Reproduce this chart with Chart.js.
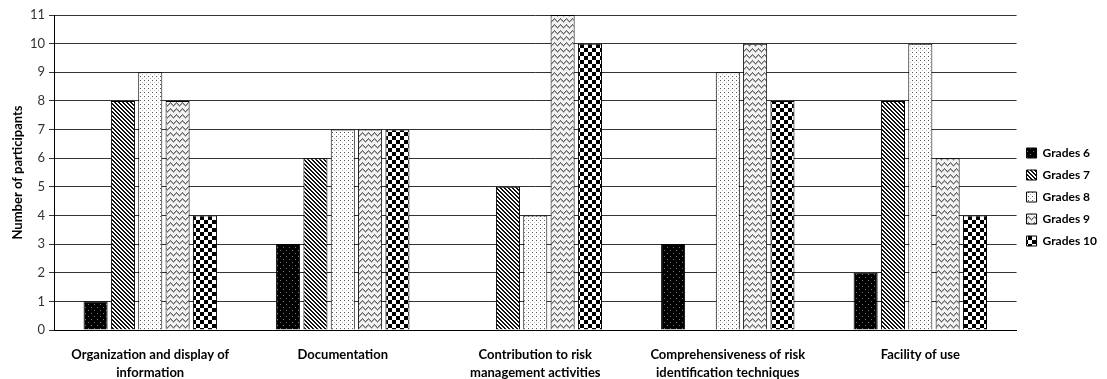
<!DOCTYPE html>
<html>
<head>
<meta charset="utf-8">
<script src="https://cdn.jsdelivr.net/npm/chart.js@4/dist/chart.umd.min.js"></script>
<style>
  html, body { margin: 0; padding: 0; background: #fff; }
  #wrap { width: 1107px; height: 379px; }
</style>
</head>
<body>
<div id="wrap"><canvas id="myChart" width="1107" height="379"></canvas></div>
<script>
const categories = [
  ["Organization and display of", "information"],
  ["Documentation"],
  ["Contribution to risk", "management activities"],
  ["Comprehensiveness of risk", "identification techniques"],
  ["Facility of use"],
];
const seriesNames = ["Grades 6", "Grades 7", "Grades 8", "Grades 9", "Grades 10"];
const grades6 = [1, 3, 0, 3, 2];
const grades7 = [8, 6, 5, 0, 8];
const grades8 = [9, 7, 4, 9, 10];
const grades9 = [8, 7, 11, 10, 6];
const grades10 = [4, 7, 10, 8, 4];
const yTicks = [0, 1, 2, 3, 4, 5, 6, 7, 8, 9, 10, 11];

// little tiles to imitate the office-style hatch fills
function makePattern(size, draw) {
  const c = document.createElement("canvas");
  c.width = size;
  c.height = size;
  const ctx = c.getContext("2d");
  draw(ctx, size);
  return ctx.createPattern(c, "repeat");
}

const dotsDark = makePattern(6, (ctx) => {
  ctx.fillStyle = "#000";
  ctx.fillRect(0, 0, 6, 6);
  ctx.fillStyle = "#777";
  ctx.fillRect(1, 1, 1, 1);
  ctx.fillRect(4, 4, 1, 1);
});

const diagonal = makePattern(4, (ctx, s) => {
  ctx.fillStyle = "#fff";
  ctx.fillRect(0, 0, s, s);
  ctx.fillStyle = "#111";
  for (let i = 0; i < s; i++) {
    for (let k = 0; k < 2; k++) {
      ctx.fillRect((i + k) % s, i, 1, 1);
    }
  }
});

const dotsLight = makePattern(4, (ctx) => {
  ctx.fillStyle = "#fff";
  ctx.fillRect(0, 0, 4, 4);
  ctx.fillStyle = "#555";
  ctx.fillRect(0, 0, 1, 1);
  ctx.fillStyle = "#bbb";
  ctx.fillRect(2, 2, 1, 1);
});

const wave = makePattern(6, (ctx) => {
  ctx.fillStyle = "#f2f2f2";
  ctx.fillRect(0, 0, 6, 6);
  ctx.fillStyle = "#666";
  const ys = [2, 1, 0, 1, 2, 3];
  ys.forEach((y, x) => ctx.fillRect(x, y, 1, 1));
  ctx.fillStyle = "#aaa";
  ys.forEach((y, x) => ctx.fillRect(x, y + 1, 1, 1));
});

const checker = makePattern(8, (ctx) => {
  ctx.fillStyle = "#fff";
  ctx.fillRect(0, 0, 8, 8);
  ctx.fillStyle = "#000";
  ctx.fillRect(0, 0, 4, 4);
  ctx.fillRect(4, 4, 4, 4);
});

const fills = [dotsDark, diagonal, dotsLight, wave, checker];
const values = [grades6, grades7, grades8, grades9, grades10];

Chart.defaults.font.family = "Lato, 'Open Sans', sans-serif";
Chart.defaults.color = "#000";

new Chart(document.getElementById("myChart"), {
  type: "bar",
  data: {
    labels: categories,
    datasets: seriesNames.map((name, i) => ({
      label: name,
      data: values[i],
      backgroundColor: fills[i],
      borderColor: "#000",
      borderWidth: 1,
      categoryPercentage: 0.71,
      barPercentage: 0.88,
    })),
  },
  options: {
    responsive: false,
    animation: false,
    layout: {
      padding: { top: 15, right: 0, left: 0, bottom: 0 },
    },
    plugins: {
      tooltip: { enabled: false },
      legend: {
        position: "right",
        labels: {
          boxWidth: 10,
          boxHeight: 10,
          padding: 10,
          color: "#000",
          font: { size: 12, weight: "bold" },
        },
      },
    },
    scales: {
      x: {
        grid: { display: false },
        border: { display: true, color: "#000", width: 1 },
        ticks: {
          padding: 8,
          maxRotation: 0,
          autoSkip: false,
          color: "#000",
          font: { size: 13, weight: "bold", lineHeight: 1.35 },
        },
        afterFit: (scale) => { scale.height = 49; },
      },
      y: {
        min: 0,
        max: 11,
        afterBuildTicks: (scale) => {
          scale.ticks = yTicks.map((v) => ({ value: v }));
        },
        grid: {
          color: "#333",
          lineWidth: 1,
          tickLength: 5,
        },
        border: { display: true, color: "#000", width: 1 },
        ticks: {
          padding: 4,
          color: "#333",
          font: { size: 13 },
        },
        title: {
          display: true,
          text: "Number of participants",
          color: "#000",
          padding: { top: 10, bottom: 2 },
          font: { size: 13, weight: "bold" },
        },
        afterFit: (scale) => { scale.width = 54; },
      },
    },
  },
});
</script>
</body>
</html>
